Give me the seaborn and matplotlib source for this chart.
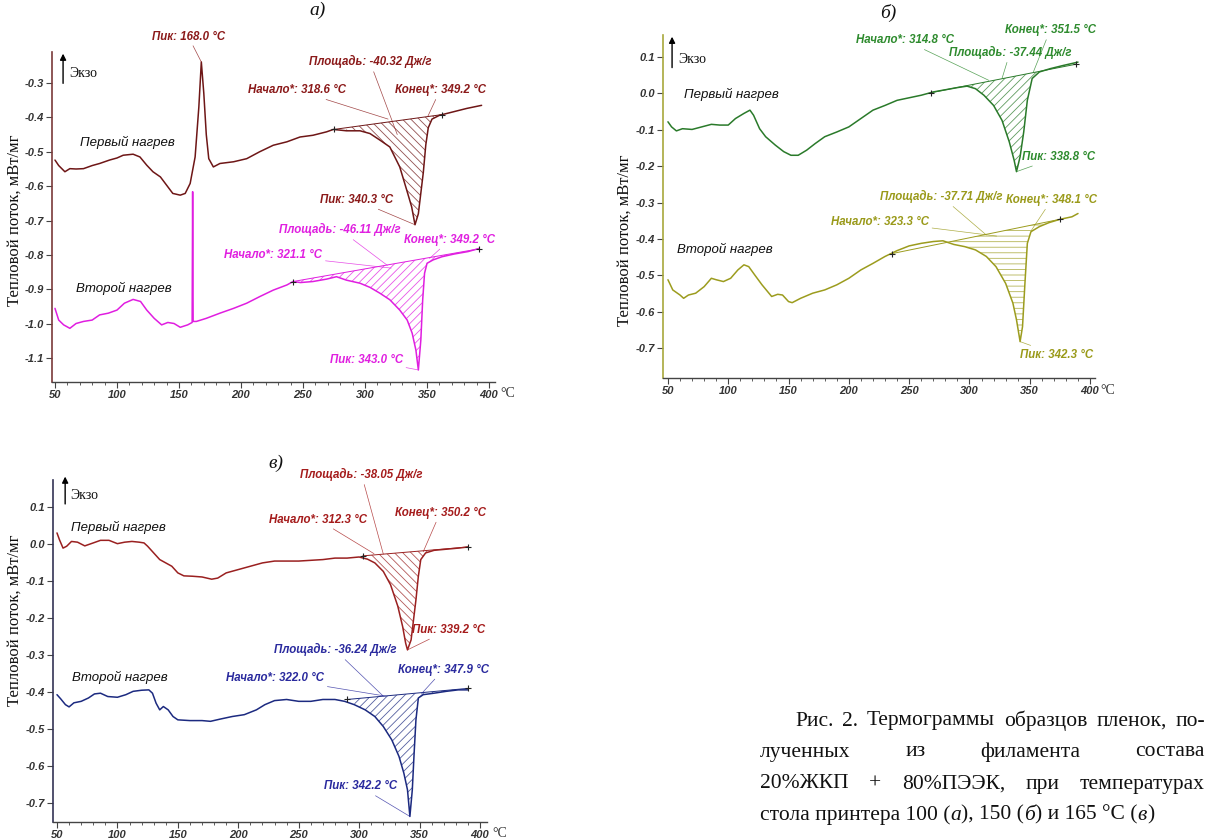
import numpy as np
import pandas as pd
import matplotlib
matplotlib.use("Agg")
import matplotlib.pyplot as plt
import seaborn as sns
from matplotlib import font_manager as fm
from matplotlib.ticker import AutoMinorLocator, FixedLocator

# ---------------- data ----------------
# panel a) first heating
a1_T = [50, 53, 58, 62, 67, 73, 80, 86, 94, 100, 105, 113, 118.5, 124, 129, 135, 140, 145, 151, 155,
        159, 163, 166, 168, 170, 172, 174, 177.7, 183, 194, 204.6, 215, 226, 237, 247.6, 258, 269,
        274.5, 285, 296, 304, 312, 320, 328, 333.6, 337.6, 340.3, 343, 345, 347, 349, 351, 354, 360,
        371, 382, 394]
a1_Q = [-0.524, -0.540, -0.558, -0.549, -0.550, -0.549, -0.540, -0.534, -0.524, -0.518, -0.510, -0.507,
        -0.515, -0.539, -0.558, -0.573, -0.597, -0.621, -0.626, -0.621, -0.592, -0.515, -0.370, -0.239,
        -0.330, -0.450, -0.520, -0.544, -0.534, -0.529, -0.520, -0.500, -0.481, -0.471, -0.457, -0.452,
        -0.442, -0.435, -0.439, -0.439, -0.447, -0.466, -0.486, -0.544, -0.611, -0.660, -0.712, -0.680,
        -0.620, -0.560, -0.480, -0.430, -0.405, -0.394, -0.384, -0.374, -0.365]
a1_base = [(275, -0.435), (362, -0.392)]

# panel a) second heating
a2_T = [50, 53, 57, 62, 67, 73, 80, 86, 93, 100, 106, 113, 119, 124, 130, 136, 141, 146, 151, 157,
        160.6, 161.0, 161.4, 164, 172, 183, 194, 204.6, 215, 226, 237, 242, 248, 258, 269, 277, 285,
        296, 304, 312, 320, 328, 334, 338, 341, 343, 345, 346.5, 348, 350, 355, 362, 372, 383, 392]
a2_Q = [-0.955, -0.989, -1.003, -1.013, -0.999, -0.993, -0.989, -0.974, -0.969, -0.960, -0.940, -0.929,
        -0.935, -0.960, -0.984, -1.003, -0.996, -0.999, -1.010, -1.003, -0.996, -0.616, -0.993, -0.993,
        -0.984, -0.969, -0.955, -0.940, -0.921, -0.902, -0.887, -0.877, -0.880, -0.877, -0.870, -0.863,
        -0.873, -0.882, -0.894, -0.911, -0.930, -0.960, -0.989, -1.027, -1.076, -1.134, -1.047, -0.930,
        -0.853, -0.824, -0.814, -0.805, -0.797, -0.790, -0.781]
a2_base = [(242, -0.877), (392, -0.782)]

# panel б) first heating
b1_T = [50, 53, 57, 62, 70, 78, 86, 93, 100, 106, 113, 118, 121, 126, 131, 139, 146, 152, 158, 165,
        172, 180, 190, 200, 210, 220, 230, 240, 250, 260, 270, 280, 290, 298, 305, 312, 320, 327, 333,
        337, 339, 342, 345, 348, 352, 358, 367, 378, 390]
b1_Q = [-0.078, -0.092, -0.103, -0.097, -0.099, -0.092, -0.085, -0.087, -0.087, -0.069, -0.055, -0.046,
        -0.060, -0.097, -0.119, -0.142, -0.160, -0.170, -0.170, -0.156, -0.138, -0.119, -0.106, -0.092,
        -0.069, -0.046, -0.033, -0.019, -0.012, -0.005, 0.004, 0.010, 0.016, 0.020, 0.013, -0.005,
        -0.033, -0.074, -0.133, -0.183, -0.215, -0.174, -0.106, -0.019, 0.041, 0.059, 0.068, 0.077, 0.086]
b1_base = [(268, 0.002), (388, 0.080)]

# panel б) second heating
b2_T = [50, 54, 60, 63, 67, 73, 80, 86, 90, 96, 102, 108, 113, 117, 122, 128, 136, 141, 145, 150,
        153, 160, 170, 180, 190, 200, 210, 220, 230, 240, 250, 260, 270, 278, 287, 296, 305, 314, 322,
        330, 336, 339, 342, 344, 346, 348, 351, 358, 366, 375, 385, 390]
b2_Q = [-0.512, -0.540, -0.554, -0.563, -0.554, -0.549, -0.531, -0.508, -0.512, -0.517, -0.508, -0.485,
        -0.471, -0.476, -0.499, -0.526, -0.558, -0.552, -0.554, -0.572, -0.575, -0.563, -0.549, -0.540,
        -0.526, -0.508, -0.485, -0.467, -0.448, -0.432, -0.419, -0.412, -0.407, -0.405, -0.415, -0.421,
        -0.430, -0.448, -0.476, -0.522, -0.576, -0.622, -0.682, -0.641, -0.522, -0.412, -0.380, -0.366,
        -0.355, -0.346, -0.339, -0.330]
b2_base = [(236, -0.440), (375, -0.346)]

# panel в) first heating
c1_T = [50, 52, 55, 58, 62, 67, 73, 80, 86, 93, 100, 106, 112, 118, 122, 125, 130, 135, 140, 145,
        150, 155, 162, 170, 178, 183, 190, 200, 210, 220, 230, 240, 250, 260, 270, 280, 290, 300, 307,
        313, 320, 326, 332, 336, 338.5, 340, 343, 345, 347, 349, 351, 355, 362, 372, 382, 390]
c1_Q = [0.030, 0.012, -0.011, -0.006, 0.007, 0.005, -0.005, 0.003, 0.010, 0.010, 0.001, 0.005, 0.007,
        0.005, 0.003, -0.006, -0.024, -0.042, -0.051, -0.060, -0.078, -0.086, -0.087, -0.089, -0.095,
        -0.092, -0.078, -0.069, -0.060, -0.051, -0.046, -0.046, -0.046, -0.044, -0.042, -0.038, -0.038,
        -0.035, -0.041, -0.051, -0.074, -0.110, -0.168, -0.223, -0.268, -0.286, -0.259, -0.205, -0.151,
        -0.087, -0.042, -0.024, -0.017, -0.014, -0.011, -0.008]
c1_base = [(303, -0.032), (390, -0.008)]

# panel в) second heating
c2_T = [50, 53, 57, 60, 64, 70, 76, 81, 86, 92, 100, 107, 113, 120, 126, 129, 132, 135, 138, 142,
        146, 150, 160, 170, 177, 185, 195, 205, 215, 222, 230, 240, 250, 260, 270, 280, 288, 296, 305,
        313, 320, 327, 333, 337, 340, 342, 344, 345.5, 347, 349, 353, 362, 372, 382, 390]
c2_Q = [-0.407, -0.418, -0.434, -0.440, -0.429, -0.425, -0.416, -0.405, -0.403, -0.412, -0.414, -0.407,
        -0.398, -0.395, -0.394, -0.403, -0.430, -0.448, -0.439, -0.448, -0.466, -0.475, -0.477, -0.477,
        -0.479, -0.473, -0.466, -0.461, -0.448, -0.434, -0.423, -0.420, -0.425, -0.425, -0.420, -0.420,
        -0.425, -0.434, -0.448, -0.466, -0.493, -0.529, -0.574, -0.619, -0.664, -0.736, -0.664, -0.565,
        -0.475, -0.416, -0.407, -0.403, -0.398, -0.394, -0.394]
c2_base = [(290, -0.420), (390, -0.390)]

x_ticks = [50, 100, 150, 200, 250, 300, 350, 400]
a_yticks = [-0.3, -0.4, -0.5, -0.6, -0.7, -0.8, -0.9, -1.0, -1.1]
bc_yticks = [0.1, 0.0, -0.1, -0.2, -0.3, -0.4, -0.5, -0.6, -0.7]

ylabel_text = "Тепловой поток, мВт/мг"
first_label = "Первый нагрев"
second_label = "Второй нагрев"

# ---------------- styling ----------------
sns.set_theme(style="white")
plt.rcParams["font.family"] = ["Liberation Sans", "DejaVu Sans"]
plt.rcParams["axes.unicode_minus"] = False
plt.rcParams["hatch.linewidth"] = 0.6

names = {f.name for f in fm.fontManager.ttflist}
NARROW = "Liberation Sans Narrow" in names
ANN_FAM = ["Liberation Sans Narrow", "Liberation Sans"] if NARROW else ["Liberation Sans"]
ANN_SIZE = 10 if NARROW else 8.3
LAB_SIZE = 11 if NARROW else 9.5
SERIF = ["Liberation Serif", "DejaVu Serif"]

W, H = 1211, 840
fig = plt.figure(figsize=(W / 100, H / 100), dpi=100)


def px_axes(l, r, t, b):
    return fig.add_axes([l / W, 1 - b / H, (r - l) / W, (b - t) / H])


def style_axes(ax, xlim, ylim, yticks, spine_left):
    ax.set_xlim(*xlim)
    ax.set_ylim(*ylim)
    ax.set_xticks(x_ticks)
    ax.xaxis.set_minor_locator(AutoMinorLocator(5))
    ax.yaxis.set_major_locator(FixedLocator(yticks))
    ax.set_yticklabels([f"{round(v, 1):.1f}".replace("-0.0", "0.0") for v in yticks])
    for s in ("top", "right"):
        ax.spines[s].set_visible(False)
    ax.spines["bottom"].set_color("#444444")
    ax.spines["left"].set_color(spine_left)
    ax.spines["bottom"].set_linewidth(1.0)
    ax.spines["left"].set_linewidth(1.2)
    ax.tick_params(axis="both", which="major", direction="out", length=4, width=0.8,
                   color="#444444", labelsize=8, labelcolor="#333333", pad=2,
                   bottom=True, left=True)
    ax.tick_params(axis="x", which="minor", direction="out", length=2, width=0.6,
                   color="#444444", bottom=True)
    for lab in ax.get_xticklabels() + ax.get_yticklabels():
        lab.set_fontweight("bold")
        lab.set_fontstyle("italic")
    ax.set_xlabel("")
    ax.set_ylabel("")
    ax.grid(False)
    ax.set_facecolor("white")
    ax.text(1.012, -0.035, "°C", transform=ax.transAxes, fontsize=10,
            family=SERIF, ha="left", va="center", color="#333333")


def draw_curve(ax, T, Q, base, color, hatch):
    df = pd.DataFrame({"T": T, "Q": Q})
    sns.lineplot(data=df, x="T", y="Q", ax=ax, color=color, lw=1.1,
                 estimator=None, sort=False, legend=False)
    (t0, q0), (t1, q1) = base
    Ta = np.asarray(T, float)
    Qa = np.asarray(Q, float)
    m = (Ta >= t0) & (Ta <= t1)
    bl = np.interp(Ta[m], [t0, t1], [q0, q1])
    ax.fill_between(Ta[m], bl, Qa[m], where=Qa[m] <= bl, interpolate=True,
                    facecolor="none", edgecolor=color, hatch=hatch, lw=0, alpha=0.75)
    ax.plot([t0, t1], [q0, q1], color=color, lw=0.7)
    ax.plot([t0, t1], [q0, q1], ls="none", marker="+", ms=5, mew=0.8, color="#222222")
    ax.set_xlabel("")
    ax.set_ylabel("")


def note(ax, text, xytext, xy, color):
    ax.annotate(text, xy=xy, xytext=xytext, textcoords="data", ha="center", va="center",
                fontsize=ANN_SIZE, family=ANN_FAM, fontweight="bold", fontstyle="italic",
                color=color, annotation_clip=False,
                arrowprops=dict(arrowstyle="-", color=color, lw=0.5, alpha=0.8,
                                shrinkA=0, shrinkB=0))


def exo(ax, x, y0, y1, tx, ty):
    ax.annotate("", xy=(x, y1), xytext=(x, y0), xycoords="axes fraction",
                textcoords="axes fraction",
                arrowprops=dict(arrowstyle="-|>", color="black", lw=1.0,
                                mutation_scale=9, shrinkA=0, shrinkB=0),
                annotation_clip=False)
    ax.text(tx, ty, "Экзо", transform=ax.transAxes, family=SERIF, fontsize=10,
            ha="left", va="center", color="#111111")


def curve_label(ax, x, y, text):
    ax.text(x, y, text, fontsize=LAB_SIZE, family=ANN_FAM, fontstyle="italic",
            ha="center", va="center", color="#111111")


# ---------------- panel a ----------------
axA = px_axes(52, 495, 52, 382)
ca1, ta1 = "#6e1616", "#8b1a1a"
ca2, ta2 = "#e01ee0", "#e020e0"
draw_curve(axA, a1_T, a1_Q, a1_base, ca1, "\\\\\\\\")
draw_curve(axA, a2_T, a2_Q, a2_base, ca2, "////")
style_axes(axA, (47.6, 404.8), (-1.169, -0.21), a_yticks, "#7a3a3a")
note(axA, "Пик: 168.0 °C", (157.5, -0.165), (168, -0.239), ta1)
note(axA, "Площадь: -40.32 Дж/г", (304, -0.239), (326, -0.45), ta1)
note(axA, "Начало*: 318.6 °C", (245, -0.321), (318.6, -0.405), ta1)
note(axA, "Конец*: 349.2 °C", (360.5, -0.321), (350.5, -0.398), ta1)
note(axA, "Пик: 340.3 °C", (293, -0.64), (340.3, -0.712), ta1)
note(axA, "Площадь: -46.11 Дж/г", (280, -0.727), (318, -0.83), ta2)
note(axA, "Начало*: 321.1 °C", (226, -0.80), (321.1, -0.838), ta2)
note(axA, "Конец*: 349.2 °C", (368.5, -0.756), (352, -0.81), ta2)
note(axA, "Пик: 343.0 °C", (301, -1.105), (343, -1.134), ta2)
curve_label(axA, 108, -0.474, first_label)
curve_label(axA, 105.6, -0.896, second_label)
exo(axA, 0.025, 0.905, 0.995, 0.04, 0.935)

# ---------------- panel б ----------------
axB = px_axes(663, 1095, 35, 378)
cb1, tb1 = "#2a7a2a", "#2e8b2e"
cb2, tb2 = "#9c9c1e", "#9a9a1a"
draw_curve(axB, b1_T, b1_Q, b1_base, cb1, "////")
draw_curve(axB, b2_T, b2_Q, b2_base, cb2, "---")
style_axes(axB, (45.9, 404.1), (-0.782, 0.1605), bc_yticks, "#a8a83c")
note(axB, "Начало*: 314.8 °C", (246.5, 0.146), (316, 0.036), tb1)
note(axB, "Площадь: -37.44 Дж/г", (333.6, 0.112), (327, 0.041), tb1)
note(axB, "Конец*: 351.5 °C", (366.8, 0.173), (353, 0.059), tb1)
note(axB, "Пик: 338.8 °C", (373.7, -0.174), (339, -0.215), tb1)
note(axB, "Площадь: -37.71 Дж/г", (277, -0.284), (314, -0.389), tb2)
note(axB, "Начало*: 323.3 °C", (225.7, -0.352), (322.5, -0.392), tb2)
note(axB, "Конец*: 348.1 °C", (368, -0.293), (351.6, -0.375), tb2)
note(axB, "Пик: 342.3 °C", (372, -0.718), (342, -0.682), tb2)
curve_label(axB, 103, -0.004, first_label)
curve_label(axB, 97, -0.43, second_label)
exo(axB, 0.021, 0.905, 0.995, 0.035, 0.93)

# ---------------- panel в ----------------
axC = px_axes(53, 487, 480, 822)
cc1, tc1 = "#9a2020", "#a51c1c"
cc2, tc2 = "#1c2a80", "#2a2a9e"
draw_curve(axC, c1_T, c1_Q, c1_base, cc1, "\\\\\\\\")
draw_curve(axC, c2_T, c2_Q, c2_base, cc2, "////")
style_axes(axC, (46.7, 405.8), (-0.751, 0.173), bc_yticks, "#333355")
note(axC, "Площадь: -38.05 Дж/г", (302, 0.187), (320, -0.027), tc1)
note(axC, "Начало*: 312.3 °C", (266, 0.066), (312.3, -0.026), tc1)
note(axC, "Конец*: 350.2 °C", (367, 0.084), (353, -0.021), tc1)
note(axC, "Пик: 339.2 °C", (373.8, -0.232), (340, -0.286), tc1)
note(axC, "Площадь: -36.24 Дж/г", (280, -0.286), (320, -0.411), tc2)
note(axC, "Начало*: 322.0 °C", (230.5, -0.362), (322, -0.411), tc2)
note(axC, "Конец*: 347.9 °C", (369.6, -0.34), (351.7, -0.404), tc2)
note(axC, "Пик: 342.2 °C", (300.8, -0.655), (342, -0.736), tc2)
curve_label(axC, 100.5, 0.046, first_label)
curve_label(axC, 102, -0.36, second_label)
exo(axC, 0.028, 0.93, 1.01, 0.04, 0.955)

# ---------------- figure texts ----------------
for (x, y) in [(15, 220), (625, 240), (15, 620)]:
    fig.text(x / W, 1 - y / H, ylabel_text, rotation=90, family=SERIF, fontsize=12,
             ha="center", va="center", color="#111111")
for (x, y, s) in [(318, 10, "а)"), (888, 13, "б)"), (276, 463, "в)")]:
    fig.text(x / W, 1 - y / H, s, family=SERIF, fontstyle="italic", fontsize=14,
             ha="center", va="center", color="#111111")

# ---------------- caption (justified) ----------------
CAP_SIZE = 15.5
renderer = fig.canvas.get_renderer()


def text_width(t):
    return t.get_window_extent(renderer=renderer).width


def justify(words, left, right, y):
    objs = [fig.text(0, 1 - y / H, w, family=SERIF, fontsize=CAP_SIZE, ha="left",
                     va="center", color="#111111") for w in words]
    widths = [text_width(o) for o in objs]
    gap = (right - left - sum(widths)) / (len(words) - 1)
    x = left
    for o, w in zip(objs, widths):
        o.set_x(x / W)
        x += w + gap


def sequence(segments, left, y):
    x = left
    for s, st in segments:
        o = fig.text(x / W, 1 - y / H, s, family=SERIF, fontsize=CAP_SIZE, ha="left",
                     va="center", fontstyle=st, color="#111111")
        x += text_width(o)


justify(["Рис.", "2.", "Термограммы", "образцов", "пленок,", "по-"], 795, 1205, 721)
justify(["лученных", "из", "филамента", "состава"], 760, 1205, 752)
justify(["20%ЖКП", "+", "80%ПЭЭК,", "при", "температурах"], 760, 1205, 784)
sequence([("стола принтера 100 (", "normal"), ("а", "italic"), ("), 150 (", "normal"),
          ("б", "italic"), (") и 165 °С (", "normal"), ("в", "italic"), (")", "normal")],
         760, 815)

fig.savefig("out.png", dpi=100, facecolor="white")
